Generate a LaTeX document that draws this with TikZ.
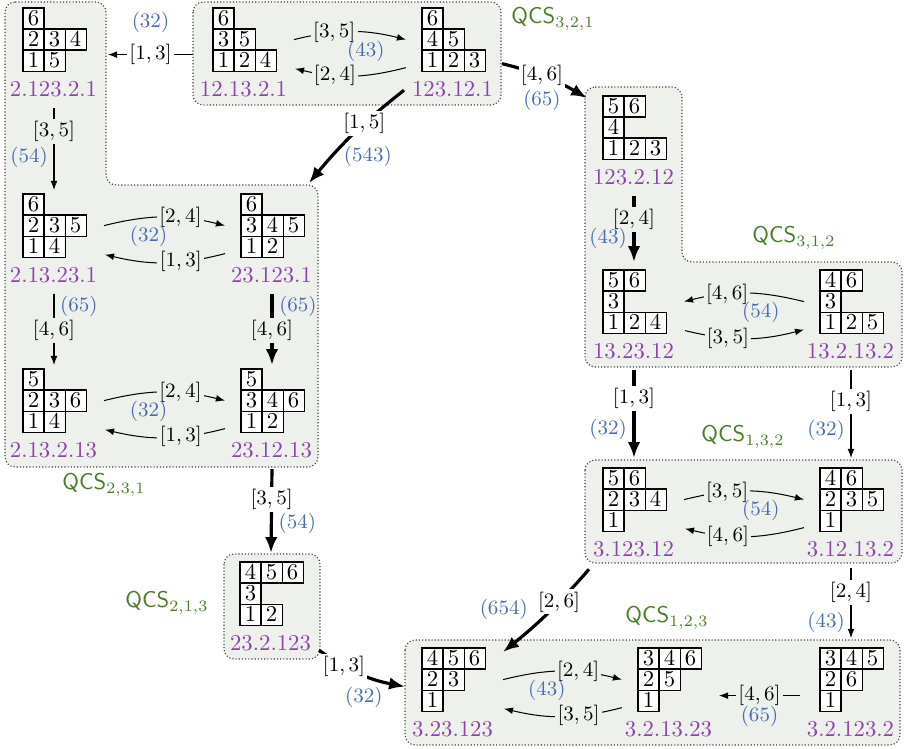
\documentclass[tikz,border=0pt]{standalone}
\usetikzlibrary{arrows.meta,calc}
\definecolor{nmcol}{RGB}{140,68,172}
\definecolor{numcol}{RGB}{70,108,178}
\definecolor{qcscol}{RGB}{72,124,38}
\definecolor{regfill}{RGB}{238,240,235}

\newlength{\cellw}\setlength{\cellw}{8.7pt}
\newcommand{\ycell}[1]{\fcolorbox{black}{white}{\makebox[\cellw]{\rule[-1.15pt]{0pt}{\cellw}$#1$}}\kern-\fboxrule}
\def\yrowi#1{\ifx#1\relax\else\ycell{#1}\expandafter\yrowi\fi}
\newcommand{\yrow}[1]{\hbox{\expandafter\yrowi#1\relax}}
\newcommand{\yt}[3]{{\setlength{\fboxsep}{0pt}\setlength{\fboxrule}{0.55pt}%
  \vbox{\offinterlineskip\yrow{#1}\kern-\fboxrule\yrow{#2}\kern-\fboxrule\yrow{#3}}}}

\tikzset{
  region/.style={draw=black!75, fill=regfill, line width=0.5pt, dash pattern=on 0.5pt off 0.9pt, rounded corners=4.5pt},
  tab/.style={inner sep=0pt, anchor=north west},
  nm/.style={text=nmcol, inner sep=1pt},
  lbl/.style={fill=regfill, inner sep=1pt, font=\small},
  lblw/.style={lbl, fill=white},
  num/.style={text=numcol, inner sep=0.5pt, font=\small},
  qcs/.style={text=qcscol, anchor=west, inner sep=0pt, font=\sffamily},
  arr/.style={-{Latex[length=4pt,width=3pt]}, line width=0.45pt},
  arrb/.style={{Latex[length=4pt,width=3pt]}-, line width=0.45pt},
  arrthick/.style={-{Latex[length=7pt,width=5.5pt]}, line width=1.4pt}
}

\begin{document}
\begin{tikzpicture}[x=0.44pt, y=-0.44pt]
      \useasboundingbox (0,0) rectangle (905,748);
      \draw[region] (5,2) -- (106,2) -- (106,185) -- (318,185) -- (318,467) -- (5,467) -- cycle;
      \draw[region] (193,2) rectangle (501,105);
      \draw[region] (585,87) -- (682,87) -- (682,262) -- (902,262) -- (902,367) -- (585,367) -- cycle;
      \draw[region] (585,460) rectangle (902,563);
      \draw[region] (224,554) rectangle (320,659);
      \draw[region] (405,640) rectangle (900,745);

      \foreach \n/\px/\py/\ra/\rb/\rc/\lab in {A/22/7/6/234/15/2.123.2.1, B/212/7/6/35/124/12.13.2.1,
          C/421/7/6/45/123/123.12.1, D/602/95/56/4/123/123.2.12, E/602/269/56/3/124/13.23.12,
          F/819/269/46/3/125/13.2.13.2, G/22/193/6/235/14/2.13.23.1, H/240/193/6/345/12/23.123.1,
          I/22/368/5/236/14/2.13.2.13, J/240/368/5/346/12/23.12.13, K/239/561/456/3/12/23.2.123,
          L/602/467/56/234/1/3.123.12, M/819/467/46/235/1/3.12.13.2, N/421/647/456/23/1/3.23.123,
          O/637/647/346/25/1/3.2.13.23, P/819/647/345/26/1/3.2.123.2}{
        \node[tab](\n) at(\px,\py) {\yt{\ra}{\rb}{\rc}};
        \node[nm](\n-l) at(\px+31.5,\py+82) {\lab};
      }

      \node[qcs](q321) at(511,19) {QCS$_{3,2,1}$};
      \node[qcs](q312) at(752,238) {QCS$_{3,1,2}$};
      \node[qcs](q231) at(62,485) {QCS$_{2,3,1}$};
      \node[qcs](q213) at(125,603) {QCS$_{2,1,3}$};
      \node[qcs](q132) at(701,437) {QCS$_{1,3,2}$};
      \node[qcs](q123) at(625,618) {QCS$_{1,2,3}$};

      \foreach \na/\nb/\ta/\tb/\nn/\ps/\ar [evaluate=\ps as \qs using 1-\ps] in {B/C/{[3,5]}/{[2,4]}/43/0.35/arr,
          G/H/{[2,4]}/{[1,3]}/32/0.64/arr, I/J/{[2,4]}/{[1,3]}/32/0.64/arr, E/F/{[4,6]}/{[3,5]}/54/0.35/arrb,
          L/M/{[3,5]}/{[4,6]}/54/0.35/arr, N/O/{[2,4]}/{[3,5]}/43/0.64/arr}{
        \draw[\ar]($(\na.east)+(18,0)$) to[bend left=14] node[lbl, pos=\ps]{$\ta$} node[num, pos=\qs, below=3pt]{(\nn)} ($(\nb.west)+(-15,0)$);
        \draw[\ar]($(\nb.west)+(-15,28)$) to[bend left=14] node[lbl, pos=\qs]{$\tb$} ($(\na.east)+(19,29)$);
      }

      \foreach \na/\nb/\gap/\ta/\ps/\nn/\qs/\sd/\lf/\st in {A/G/3/{[3,5]}/0.28/54/0.6/left/lbl/arr,
          G/I/3/{[4,6]}/0.51/65/0.17/right/lbl/arr, H/J/3/{[4,6]}/0.51/65/0.17/right/lbl/arrthick,
          J/K/8/{[3,5]}/0.36/54/0.65/right/lblw/arrthick, D/E/7/{[2,4]}/0.35/43/0.64/left/lbl/arrthick,
          E/L/9/{[1,3]}/0.32/32/0.67/left/lblw/arrthick, F/M/9/{[1,3]}/0.36/32/0.69/left/lblw/arr,
          M/P/9/{[2,4]}/0.35/43/0.77/left/lblw/arr}{
        \draw[\st]($(\na.south)+(0,36)$) -- node[\lf, pos=\ps]{$\ta$} node[num, pos=\qs, \sd=2pt]{(\nn)} ($(\nb.north)+(0,-\gap)$);
      }

      \draw[arr]($(B.west)+(-19,15)$) -- node[lblw]{$[1,3]$} node[num, above=9pt]{(32)} ($(A.east)+(22,15)$);
      \draw[arrthick]($(C.east)+(17,24)$) to[bend left=8] node[lblw, pos=.45]{$[4,6]$} node[num, pos=.45, below=5pt]{(65)} ($(D.north west)+(-15,3)$);
      \draw[arrthick]($(C.south west)+(-17,18)$) to[bend right=6] node[lblw, pos=.38]{$[1,5]$} node[num, pos=.75, right=4pt]{(543)} ($(H.north east)+(5,-10)$);
      \draw[arrthick]($(K.south east)+(16,24)$) to[bend right=12] node[lblw, pos=.3]{$[1,3]$} node[num, pos=.55, below=4pt]{(32)} ($(N.west)+(-16,7)$);
      \draw[arrthick]($(L.south west)+(-13,37)$) to[bend left=5] node[lblw, pos=.36]{$[2,6]$} node[num, pos=.45, left=9.5pt]{(654)} ($(N.north east)+(18,5)$);
      \draw[arr]($(P.west)+(-19,16)$) -- node[lbl]{$[4,6]$} node[num, below=4pt]{(65)} ($(O.east)+(18,16)$);
\end{tikzpicture}
\end{document}
